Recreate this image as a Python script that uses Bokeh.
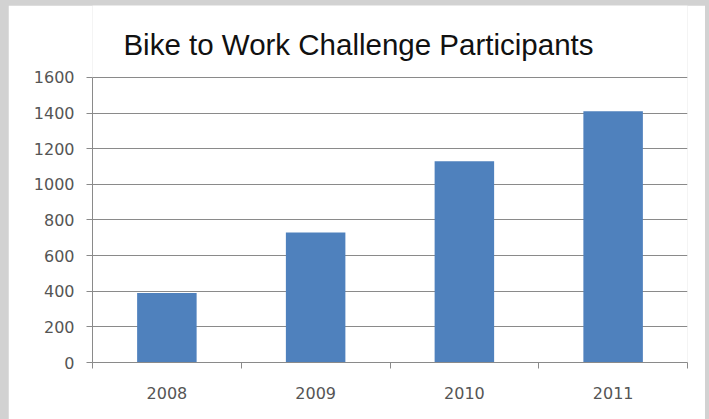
from bokeh.plotting import figure
from bokeh.models import Range1d, FixedTicker, Column
from bokeh.core.properties import value
from bokeh.embed import file_html
from bokeh.resources import INLINE

title_text = "Bike to Work Challenge Participants"
years = ["2008", "2009", "2010", "2011"]
participants = [390, 730, 1130, 1410]
y_ticks = [0, 200, 400, 600, 800, 1000, 1200, 1400, 1600]

xs = [i + 0.5 for i in range(len(years))]

# The frame reaches the top of the figure so the title can sit inside it;
# the y axis line and the grid stop at 1600.
p = figure(width=697, height=414, output_backend="svg", toolbar_location=None,
           x_range=Range1d(0, len(years)), y_range=Range1d(0, 2004),
           min_border_left=84, min_border_right=18, min_border_top=0, min_border_bottom=57,
           margin=(5, 4, 0, 8))

p.text(x=[0.208], y=[1785], text=[title_text], text_font=value("Liberation Sans"),
       text_font_size="29.5px", text_color="#111111",
       text_baseline="alphabetic", text_align="left")

p.vbar(x=xs, top=participants, width=0.4, fill_color="#4f81bd", line_color=None)

p.outline_line_color = None
p.background_fill_color = "white"
p.border_fill_color = "white"
p.xgrid.visible = False
p.ygrid.ticker = FixedTicker(ticks=y_ticks)
p.ygrid.grid_line_color = "#8a8a8a"
p.ygrid.grid_line_width = 1

p.yaxis.ticker = FixedTicker(ticks=y_ticks)
p.yaxis.bounds = (y_ticks[0], y_ticks[-1])
p.yaxis.axis_line_color = "#8a8a8a"
p.yaxis.major_tick_line_color = "#8a8a8a"
p.yaxis.major_tick_out = 6
p.yaxis.major_tick_in = 0
p.yaxis.minor_tick_line_color = None
p.yaxis.major_label_standoff = 12
p.yaxis.major_label_text_font = "DejaVu Sans"
p.yaxis.major_label_text_font_size = "16px"
p.yaxis.major_label_text_color = "#555555"

p.xaxis.ticker = FixedTicker(ticks=xs, minor_ticks=list(range(len(years) + 1)))
p.xaxis.major_label_overrides = {x: y for x, y in zip(xs, years)}
p.xaxis.axis_line_color = "#8a8a8a"
p.xaxis.major_tick_line_color = None
p.xaxis.major_tick_out = 0
p.xaxis.major_tick_in = 0
p.xaxis.minor_tick_line_color = "#8a8a8a"
p.xaxis.minor_tick_out = 6
p.xaxis.minor_tick_in = 0
p.xaxis.major_label_standoff = 18
p.xaxis.major_label_text_font = "DejaVu Sans"
p.xaxis.major_label_text_font_size = "16px"
p.xaxis.major_label_text_color = "#555555"

layout = Column(p, width=709, height=419, spacing=0,
                styles={"background-color": "#d2d2d2"})

open("out.html", "w").write(file_html(layout, INLINE))
